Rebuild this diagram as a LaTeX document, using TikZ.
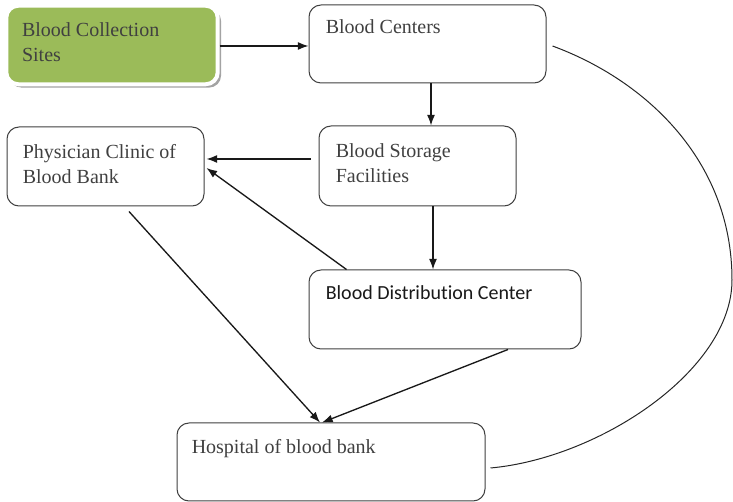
\documentclass[tikz,border=0pt]{standalone}
\usepackage{fontspec}
\setmainfont{Liberation Serif}
\newfontfamily\calib[Ligatures=NoCommon]{Carlito}
\usetikzlibrary{arrows.meta,calc,shadows}
\definecolor{boxgreen}{HTML}{9BBB59}
\begin{document}
\begin{tikzpicture}[x=0.75pt,y=-0.75pt,
  box/.style={draw=black!75, line width=0.75pt, rounded corners=9pt, fill=white, inner sep=0pt},
  greenbox/.style={draw=white, line width=3pt, rounded corners=9pt, fill=boxgreen, inner sep=0pt,
    drop shadow={shadow xshift=2.5pt, shadow yshift=-2.5pt, fill=black!45, opacity=0.8}},
  txt/.style={anchor=north west, inner sep=0pt, align=left, text=black!75, font=\fontsize{15}{18.75}\selectfont},
  stxt/.style={anchor=north west, inner sep=0pt, align=left, text=black!90, font=\calib\fontsize{15}{18.75}\selectfont},
  arr/.style={line width=1pt, draw=black!90, -{Latex[length=8pt,width=6pt]}},
  curve/.style={line width=0.75pt, draw=black!85}
]
\useasboundingbox (0,0) rectangle (733,502);

% boxes
\node[greenbox, minimum width=158.6pt, minimum height=58.9pt] (cs) at (112,45) {};
\node[box, minimum width=177.75pt, minimum height=58.5pt] (bc) at (427.5,44) {};
\node[box, minimum width=147.75pt, minimum height=59.25pt] (pc) at (105.5,166.5) {};
\node[box, minimum width=147.75pt, minimum height=60pt] (bs) at (417.5,166) {};
\node[box, minimum width=204pt, minimum height=59.25pt] (bd) at (445,309.5) {};
\node[box, minimum width=231pt, minimum height=58.5pt] (hb) at (331,462) {};

% texts
\node[txt] (tcs) at ($(cs.north west)+(17.5,18.8)$) {Blood Collection\\Sites};
\node[txt] (tbc) at ($(bc.north west)+(17,15.3)$) {Blood Centers};
\node[txt] (tpc) at ($(pc.north west)+(16,17.3)$) {Physician Clinic of\\Blood Bank};
\node[txt] (tbs) at ($(bs.north west)+(17,18.3)$) {Blood Storage\\Facilities};
\node[stxt] (tbd) at ($(bd.north west)+(17,15.5)$) {Blood Distribution Center};
\node[txt] (thb) at ($(hb.north west)+(15,16.3)$) {Hospital of blood bank};

% arrows
\draw[arr] ($(cs.east)+(0,1)$) -- ($(bc.west)+(0,2)$);
\draw[arr] ($(bc.south)+(3.5,0)$) -- ($(bs.north)+(13.5,0)$);
\draw[arr] ($(bs.west)+(-8,-7)$) -- ($(pc.east)+(2,-7.5)$);
\draw[arr] ($(bs.south)+(15.5,0)$) -- ($(bd.north)+(-12,0)$);
\draw[arr] ($(bd.north west)+(38,0)$) -- ($(pc.east)+(2,1.5)$);
\draw[arr] ($(pc.south)+(23.5,5)$) -- ($(hb.north)+(-11,0)$);
\draw[arr] ($(bd.south)+(63,0)$) -- ($(hb.north)+(-9,0)$);

% return curve
\coordinate (cstart) at ($(bc.east)+(6,2)$);
\coordinate (cright) at (732,280);
\coordinate (cend) at ($(hb.east)+(5,6)$);
\draw[curve] (cstart) .. controls (645,80) and (732,160) .. (cright)
  .. controls (732,370) and (600,458) .. (cend);
\end{tikzpicture}
\end{document}
